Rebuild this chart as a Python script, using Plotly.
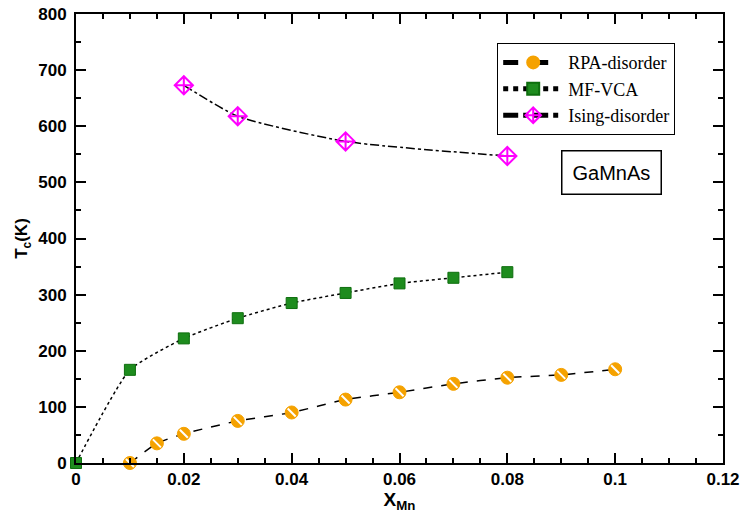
import plotly.graph_objects as go

rpa_x = [0.01, 0.015, 0.02, 0.03, 0.04, 0.05, 0.06, 0.07, 0.08, 0.09, 0.1]
rpa_y = [0, 35, 52, 75, 90, 113, 126, 141, 152, 157, 167]

mf_x = [0, 0.01, 0.02, 0.03, 0.04, 0.05, 0.06, 0.07, 0.08]
mf_y = [0, 166, 222, 258, 285, 303, 320, 330, 340]

ising_x = [0.02, 0.03, 0.05, 0.08]
ising_y = [673, 618, 573, 547]

orange = "#F5A200"
green = "#1E8C1E"
magenta = "#FF00FF"

fig = go.Figure()
fig.add_trace(go.Scatter(
    x=rpa_x, y=rpa_y, name="RPA-disorder", mode="lines+markers",
    line=dict(color="black", width=1.5, dash="dash", shape="spline", smoothing=0.5),
    marker=dict(symbol="circle", size=13, color=orange, line=dict(color=orange, width=1)),
    cliponaxis=False))
fig.add_trace(go.Scatter(
    x=rpa_x, y=rpa_y, showlegend=False, mode="markers", hoverinfo="skip",
    marker=dict(symbol="line-nw", size=8, line=dict(color="white", width=2)),
    cliponaxis=False))
fig.add_trace(go.Scatter(
    x=mf_x, y=mf_y, name="MF-VCA", mode="lines+markers",
    line=dict(color="black", width=1.5, dash="dot", shape="spline", smoothing=0.5),
    marker=dict(symbol="square", size=11, color=green, line=dict(color="#0E6E0E", width=1)),
    cliponaxis=False))
fig.add_trace(go.Scatter(
    x=ising_x, y=ising_y, name="Ising-disorder", mode="lines+markers",
    line=dict(color="black", width=1.5, dash="dashdot", shape="spline", smoothing=0.6),
    marker=dict(symbol="diamond-cross-open", size=14, color=magenta, line=dict(color=magenta, width=2)),
    cliponaxis=False))

tickfont = dict(family="Liberation Sans", size=17, color="black")
fig.update_layout(
    width=740, height=516,
    margin=dict(l=76, r=17, t=14, b=53),
    paper_bgcolor="white", plot_bgcolor="white",
    showlegend=True,
    legend=dict(x=0.651, y=0.935, xanchor="left", yanchor="top",
                bgcolor="white", bordercolor="black", borderwidth=1,
                font=dict(family="Liberation Serif", size=18, color="black"),
                tracegroupgap=0, itemsizing="constant", itemwidth=60),
    xaxis=dict(range=[0, 0.12], tickvals=[0, 0.02, 0.04, 0.06, 0.08, 0.1, 0.12],
               ticktext=["<b>0</b>", "<b>0.02</b>", "<b>0.04</b>", "<b>0.06</b>", "<b>0.08</b>", "<b>0.1</b>", "<b>0.12</b>"],
               ticks="inside", ticklen=10, tickwidth=2, tickcolor="black",
               minor=dict(dtick=0.005, tick0=0, ticks="inside", ticklen=5, tickwidth=2, tickcolor="black", showgrid=False),
               showline=True, linecolor="black", linewidth=2, mirror="allticks",
               showgrid=False, zeroline=False, tickfont=tickfont, automargin=False,
               title=dict(text="<b>X<sub>Mn</sub></b>", font=dict(family="Liberation Sans", size=19, color="black"), standoff=2)),
    yaxis=dict(range=[0, 800], tickvals=[0, 100, 200, 300, 400, 500, 600, 700, 800],
               ticktext=["<b>%d</b>" % v for v in [0, 100, 200, 300, 400, 500, 600, 700, 800]],
               ticks="inside", ticklen=10, tickwidth=2, tickcolor="black",
               minor=dict(dtick=50, tick0=0, ticks="inside", ticklen=5, tickwidth=2, tickcolor="black", showgrid=False),
               showline=True, linecolor="black", linewidth=2, mirror="allticks",
               showgrid=False, zeroline=False, tickfont=tickfont, automargin=False,
               ticklabelstandoff=4,
               title=dict(text="<b>T<sub>c</sub>(K)</b>", font=dict(family="Liberation Sans", size=17, color="black"), standoff=6)),
    annotations=[dict(x=0.827, y=0.648, xref="paper", yref="paper", text="GaMnAs",
                      xanchor="center", yanchor="middle",
                      showarrow=False, font=dict(family="Liberation Sans", size=20, color="black"),
                      bordercolor="black", borderwidth=1.5, borderpad=10, bgcolor="white")],
)
fig.write_html("out.html")
